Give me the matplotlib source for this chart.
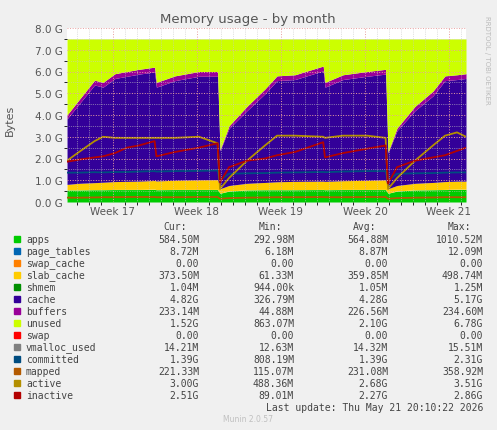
import matplotlib
matplotlib.use("Agg")
import matplotlib.pyplot as plt
import numpy as np

# time in days from chart start
days = [0, 1, 2.3, 3, 4, 5, 6, 7.3, 7.45, 9, 11, 12.55, 12.75, 13.5, 15, 16.5, 17.5, 19, 21.35, 21.5, 23, 25, 26.55, 26.75, 27.5, 29, 30.5, 31.5, 32.5, 33.25]
# stacked areas (G)
apps =   [0.55, 0.55, 0.56, 0.56, 0.57, 0.57, 0.57, 0.58, 0.56, 0.57, 0.57, 0.57, 0.40, 0.50, 0.55, 0.56, 0.56, 0.56, 0.57, 0.56, 0.57, 0.57, 0.57, 0.40, 0.50, 0.55, 0.56, 0.57, 0.58, 0.58]
slab =   [0.25, 0.30, 0.32, 0.34, 0.36, 0.37, 0.38, 0.40, 0.40, 0.42, 0.44, 0.45, 0.20, 0.25, 0.30, 0.33, 0.36, 0.38, 0.38, 0.38, 0.40, 0.42, 0.44, 0.20, 0.25, 0.30, 0.33, 0.36, 0.37, 0.37]
buftop = [4.0, 4.7, 5.6, 5.5, 5.9, 6.0, 6.1, 6.2, 5.5, 5.8, 6.0, 6.0, 2.4, 3.5, 4.4, 5.2, 5.8, 5.85, 6.25, 5.5, 5.85, 6.0, 6.1, 2.3, 3.4, 4.4, 5.1, 5.8, 5.85, 5.9]
buffers = [0.18, 0.2, 0.22, 0.22, 0.22, 0.22, 0.22, 0.22, 0.22, 0.22, 0.22, 0.22, 0.05, 0.12, 0.2, 0.22, 0.22, 0.22, 0.22, 0.22, 0.22, 0.22, 0.22, 0.05, 0.12, 0.2, 0.22, 0.22, 0.22, 0.22]
total = 7.5
# lines (G)
committed = [1.35, 1.35, 1.37, 1.36, 1.38, 1.38, 1.40, 1.42, 1.40, 1.42, 1.43, 1.45, 1.0, 1.30, 1.32, 1.33, 1.35, 1.36, 1.38, 1.37, 1.40, 1.42, 1.42, 1.0, 1.30, 1.32, 1.33, 1.35, 1.36, 1.36]
active = [1.9, 2.3, 2.8, 3.0, 2.95, 2.95, 2.95, 2.95, 2.95, 2.95, 3.0, 2.7, 0.6, 1.1, 1.9, 2.6, 3.05, 3.05, 3.0, 2.95, 3.05, 3.05, 2.95, 0.6, 1.1, 1.9, 2.6, 3.05, 3.2, 3.0]
inactive = [1.85, 1.95, 2.05, 2.1, 2.25, 2.5, 2.6, 2.8, 2.1, 2.3, 2.5, 2.7, 0.9, 1.6, 1.9, 2.0, 2.15, 2.3, 2.75, 2.05, 2.25, 2.45, 2.6, 0.85, 1.6, 1.9, 2.05, 2.15, 2.35, 2.5]
mapped = [0.2, 0.2, 0.21, 0.22, 0.22, 0.23, 0.23, 0.23, 0.22, 0.22, 0.23, 0.23, 0.15, 0.18, 0.2, 0.21, 0.22, 0.22, 0.23, 0.22, 0.22, 0.23, 0.23, 0.15, 0.18, 0.2, 0.21, 0.22, 0.22, 0.22]

week_pos = [3.83, 10.83, 17.83, 24.83, 31.83]
week_labels = ["Week 17", "Week 18", "Week 19", "Week 20", "Week 21"]

legend_names = ["apps", "page_tables", "swap_cache", "slab_cache", "shmem", "cache", "buffers", "unused", "swap", "vmalloc_used", "committed", "mapped", "active", "inactive"]
legend_colors = ["#00CC00", "#0066B3", "#FF8000", "#FFCC00", "#008F00", "#330099", "#990099", "#CCFF00", "#FF0000", "#808080", "#004C80", "#B35A00", "#B38F00", "#B30000"]
cur = ["584.50M", "8.72M", "0.00", "373.50M", "1.04M", "4.82G", "233.14M", "1.52G", "0.00", "14.21M", "1.39G", "221.33M", "3.00G", "2.51G"]
mn = ["292.98M", "6.18M", "0.00", "61.33M", "944.00k", "326.79M", "44.88M", "863.07M", "0.00", "12.63M", "808.19M", "115.07M", "488.36M", "89.01M"]
avg = ["564.88M", "8.87M", "0.00", "359.85M", "1.05M", "4.28G", "226.56M", "2.10G", "0.00", "14.32M", "1.39G", "231.08M", "2.68G", "2.27G"]
mx = ["1010.52M", "12.09M", "0.00", "498.74M", "1.25M", "5.17G", "234.60M", "6.78G", "0.00", "15.51M", "2.31G", "358.92M", "3.51G", "2.86G"]

d = np.array(days)
a = np.array(apps); s = np.array(slab); bt = np.array(buftop); b = np.array(buffers)
W, H = 497, 431
fig = plt.figure(figsize=(W/100, H/100), dpi=100, facecolor="#F0F0F0")
ax = fig.add_axes([67/W, 1-203/H, 399/W, 174/H], facecolor="white")
pt = a + 0.009
ax.fill_between(d, 0, a, color="#00CC00", lw=0)
ax.fill_between(d, pt, pt + s, color="#FFCC00", lw=0)
ax.fill_between(d, pt + s, bt - b, color="#330099", lw=0)
ax.fill_between(d, bt - b, bt, color="#990099", lw=0)
ax.fill_between(d, bt, total, color="#CCFF00", lw=0)
ax.plot(d, committed, color="#004C80", lw=1.3)
ax.plot(d, mapped, color="#B35A00", lw=1.3)
ax.plot(d, active, color="#B38F00", lw=1.3)
ax.plot(d, inactive, color="#B30000", lw=1.3)
ax.set_xlim(0, 33.25); ax.set_ylim(0, 8)
ax.set_yticks(range(0, 9))
ax.set_yticklabels([f"{i}.0 G" for i in range(9)], fontsize=7.5, color="#555555")
ax.set_xticks(week_pos)
ax.set_xticklabels(week_labels, fontsize=7.5, color="#555555")
ax.set_yticks(np.arange(0.5, 8, 0.5), minor=True)
ax.set_xticks(np.arange(0.83, 33.25, 1), minor=True)
ax.grid(True, which="major", color="#E8A0A0", ls=":", lw=0.7)
ax.grid(True, which="minor", color="#C8C8C8", ls=":", lw=0.5)
ax.set_axisbelow(False)
ax.tick_params(length=0, pad=3)
for sp in ax.spines.values():
    sp.set_visible(False)
fig.text(248/W, 1-20/H, "Memory usage - by month", ha="center", va="center", fontsize=9.5, color="#555555")
fig.text(10/W, 1-120/H, "Bytes", rotation=90, ha="center", va="center", fontsize=8, color="#555555")
fig.text(487/W, 1-60/H, "RRDTOOL / TOBI OETIKER", rotation=270, ha="center", va="center", fontsize=5, color="#BBBBBB")

mono = "DejaVu Sans Mono"
def ty(y): return 1 - y/H
for x, h in [(199, "Cur:"), (294, "Min:"), (388, "Avg:"), (483, "Max:")]:
    fig.text((x-12)/W, ty(227), h, ha="right", va="center", fontsize=7, family=mono, color="#444444")
for i, name in enumerate(legend_names):
    y = 240 + 12*i
    fig.patches.append(plt.Rectangle((14/W, ty(y+3)), 6/W, 6/H, transform=fig.transFigure, color=legend_colors[i], figure=fig))
    fig.text(26/W, ty(y), name, ha="left", va="center", fontsize=7, family=mono, color="#444444")
    for x, v in [(199, cur[i]), (294, mn[i]), (388, avg[i]), (483, mx[i])]:
        fig.text(x/W, ty(y), v, ha="right", va="center", fontsize=7, family=mono, color="#444444")
fig.text(483/W, ty(408), "Last update: Thu May 21 20:10:22 2026", ha="right", va="center", fontsize=7, family=mono, color="#444444")
fig.text(248/W, ty(420), "Munin 2.0.57", ha="center", va="center", fontsize=5.5, color="#C0C0C0")
fig.savefig("out.png", dpi=100, facecolor=fig.get_facecolor())
